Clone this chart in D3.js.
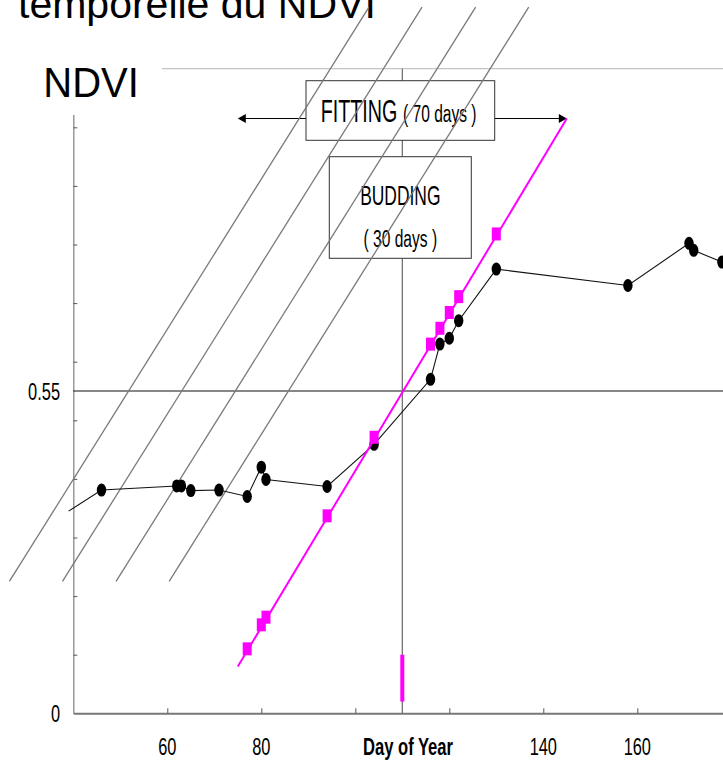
<!DOCTYPE html>
<html>
<head>
<meta charset="utf-8">
<script src="https://cdn.jsdelivr.net/npm/d3@7"></script>
<style>
  html, body { margin: 0; padding: 0; background: #ffffff; }
  svg { display: block; }
</style>
</head>
<body>
<svg id="chart" width="723" height="764"></svg>
<script>
// ---- data ---------------------------------------------------------------
// observed NDVI (day of year / value)
const obsDays = [46, 62, 63, 65, 71, 77, 80, 81, 94, 104, 116, 118, 120, 122, 130, 158, 171, 172, 178];
const obsNdvi = [0.381, 0.388, 0.388, 0.380, 0.381, 0.370, 0.420, 0.399, 0.387, 0.459, 0.570, 0.630, 0.640, 0.670, 0.758, 0.730, 0.802, 0.790, 0.770];
// the curve enters the frame from an earlier acquisition
const leadDay = 39;
const leadNdvi = 0.345;

// linear fit over the 70-day window
const fitDays = [77, 80, 81, 94, 104, 116, 118, 120, 122, 130];
const fitNdvi = [0.110, 0.151, 0.164, 0.337, 0.471, 0.630, 0.657, 0.684, 0.711, 0.818];
const fitWindowDays = [75, 145];
const fitWindowNdvi = [0.080, 1.015];

// budding date and threshold
const budDay = 110;
const thresholdNdvi = 0.55;
const budMarkNdvi = [0.02, 0.10];

// hatch lines (start day at the lower end)
const hatchStartDays = [26.4, 37.7, 49.1, 60.4];
const hatchSpanDays = 76.5;
const hatchNdvi = [0.225, 1.205];

// axes
const xTickDays = [60, 80, 100, 120, 140, 160, 180];
const xLabelDays = [60, 80, 140, 160];
const yTickValues = [0.1, 0.2, 0.3, 0.4, 0.5, 0.6, 0.7, 0.8, 0.9, 1.0];
const yLabelValues = [0, 0.55];
const yLabelTexts = ["0", "0.55"];

// ---- drawing ------------------------------------------------------------
const svg = d3.select("#chart");
const FONT = "'Liberation Sans', Arial, Helvetica, sans-serif";

const x = d3.scaleLinear().domain([40, 180]).range([73.3, 73.3 + 140 * 4.7]);
const y = d3.scaleLinear().domain([0, 1.1]).range([713.3, 713.3 - 1.1 * 586]);

// condensed, slightly tall lettering
function label(g, px, py, txt, o) {
  return g.append("text")
    .attr("transform", `translate(${px},${py}) scale(${o.sx || 1},${o.sy || 1})`)
    .attr("text-anchor", o.anchor || "start")
    .attr("font-family", FONT)
    .attr("font-size", o.size)
    .attr("font-weight", o.weight || "normal")
    .attr("fill", o.fill || "#000")
    .text(txt);
}

svg.append("rect").attr("width", 723).attr("height", 764).attr("fill", "#ffffff");

// slide title (partly off the top)
label(svg, 18, 18, "temporelle du NDVI", { size: 41 });

// top frame line
svg.append("line")
  .attr("x1", x(40)).attr("x2", 723)
  .attr("y1", y(1.1)).attr("y2", y(1.1))
  .attr("stroke", "#c4c4c4").attr("stroke-width", 1.3);

// y axis (ticks inside)
const yAxis = svg.append("g")
  .attr("transform", `translate(${x(40)},0)`)
  .call(d3.axisRight(y).tickValues(yTickValues).tickSize(4).tickSizeOuter(0).tickFormat(""));
yAxis.select(".domain").attr("stroke", "#8a8a8a").attr("stroke-width", 1.3);
yAxis.selectAll(".tick line").attr("stroke", "#555");

// x axis (ticks inside)
const xAxis = svg.append("g")
  .attr("transform", `translate(0,${y(0)})`)
  .call(d3.axisBottom(x).tickValues(xTickDays).tickSize(-5).tickSizeOuter(0).tickFormat(""));
xAxis.select(".domain").attr("stroke", "#777").attr("stroke-width", 2);
xAxis.selectAll(".tick line").attr("stroke", "#555");

// threshold line
svg.append("line")
  .attr("x1", x(40)).attr("x2", 723)
  .attr("y1", y(thresholdNdvi)).attr("y2", y(thresholdNdvi))
  .attr("stroke", "#111").attr("stroke-width", 1.2);

// budding date line
svg.append("line")
  .attr("x1", x(budDay)).attr("x2", x(budDay))
  .attr("y1", y(1.1)).attr("y2", y(0))
  .attr("stroke", "#666").attr("stroke-width", 1.2);

// budding date mark on the axis
svg.append("line")
  .attr("x1", x(budDay)).attr("x2", x(budDay))
  .attr("y1", y(budMarkNdvi[0])).attr("y2", y(budMarkNdvi[1]))
  .attr("stroke", "#ff00ff").attr("stroke-width", 4);

// FITTING window arrow
const arrowY = y(fitWindowNdvi[1]);
const fitBox = { x: 306, y: 80.7, w: 188.7, h: 59.6 };
const budBox = { x: 329.3, y: 156.7, w: 142, h: 101.6 };
const ann = svg.append("g");
ann.append("line").attr("x1", x(fitWindowDays[0]) + 6).attr("x2", fitBox.x)
  .attr("y1", arrowY).attr("y2", arrowY).attr("stroke", "#000").attr("stroke-width", 1.2);
ann.append("line").attr("x1", fitBox.x + fitBox.w).attr("x2", x(fitWindowDays[1]) - 6)
  .attr("y1", arrowY).attr("y2", arrowY).attr("stroke", "#000").attr("stroke-width", 1.2);
const xl = x(fitWindowDays[0]), xr = x(fitWindowDays[1]);
ann.append("path").attr("d", `M${xl},${arrowY} L${xl + 8},${arrowY - 4.5} L${xl + 8},${arrowY + 4.5} Z`).attr("fill", "#000");
ann.append("path").attr("d", `M${xr},${arrowY} L${xr - 8},${arrowY - 4.5} L${xr - 8},${arrowY + 4.5} Z`).attr("fill", "#000");

// annotation boxes
ann.append("rect").attr("x", fitBox.x).attr("y", fitBox.y).attr("width", fitBox.w).attr("height", fitBox.h)
  .attr("fill", "#fff").attr("stroke", "#333").attr("stroke-width", 1);
label(ann, 320.7, 121.7, "FITTING", { size: 24, sx: 0.82, sy: 1.3 });
label(ann, 403, 121.7, "( 70 days )", { size: 19, sx: 0.82, sy: 1.22 });

ann.append("rect").attr("x", budBox.x).attr("y", budBox.y).attr("width", budBox.w).attr("height", budBox.h)
  .attr("fill", "#fff").attr("stroke", "#333").attr("stroke-width", 1);
label(ann, budBox.x + budBox.w / 2, 205, "BUDDING", { size: 21, sx: 0.83, sy: 1.33, anchor: "middle" });
label(ann, budBox.x + budBox.w / 2, 246.7, "( 30 days )", { size: 19, sx: 0.82, sy: 1.22, anchor: "middle" });

// hatch lines
svg.append("g").selectAll("line").data(hatchStartDays).join("line")
  .attr("x1", d => x(d)).attr("y1", y(hatchNdvi[0]))
  .attr("x2", d => x(d + hatchSpanDays)).attr("y2", y(hatchNdvi[1]))
  .attr("stroke", "#7a7a7a").attr("stroke-width", 1.3);

// observed NDVI curve
const obs = [[leadDay, leadNdvi]].concat(obsDays.map((d, i) => [d, obsNdvi[i]]));
svg.append("path")
  .datum(obs)
  .attr("d", d3.line().x(d => x(d[0])).y(d => y(d[1])))
  .attr("fill", "none").attr("stroke", "#111").attr("stroke-width", 1.1);
svg.append("g").selectAll("ellipse").data(obsDays).join("ellipse")
  .attr("cx", d => x(d)).attr("cy", (d, i) => y(obsNdvi[i]))
  .attr("rx", 4.7).attr("ry", 6.5).attr("fill", "#000");

// fitted line and fitted values
svg.append("line")
  .attr("x1", x(fitWindowDays[0])).attr("y1", y(fitWindowNdvi[0]))
  .attr("x2", x(fitWindowDays[1])).attr("y2", y(fitWindowNdvi[1]))
  .attr("stroke", "#ff00ff").attr("stroke-width", 2);
svg.append("g").selectAll("rect").data(fitDays).join("rect")
  .attr("x", d => x(d) - 4.5).attr("y", (d, i) => y(fitNdvi[i]) - 6.5)
  .attr("width", 9).attr("height", 13).attr("fill", "#ff00ff");

// y axis title on its own white panel
svg.append("rect").attr("x", 23).attr("y", 47).attr("width", 139).attr("height", 68).attr("fill", "#fff");
label(svg, 43.3, 96.7, "NDVI", { size: 40, sy: 1.04 });

// tick labels
yLabelValues.forEach((v, i) =>
  label(svg, 60, y(v) + 8.5, yLabelTexts[i], { size: 20, sx: 0.82, sy: 1.17, anchor: "end" }));
xLabelDays.forEach(d =>
  label(svg, x(d), 755, String(d), { size: 20, sx: 0.82, sy: 1.17, anchor: "middle" }));
label(svg, 408, 755, "Day of Year", { size: 20, sx: 0.83, sy: 1.17, anchor: "middle", weight: "bold" });
</script>
</body>
</html>
